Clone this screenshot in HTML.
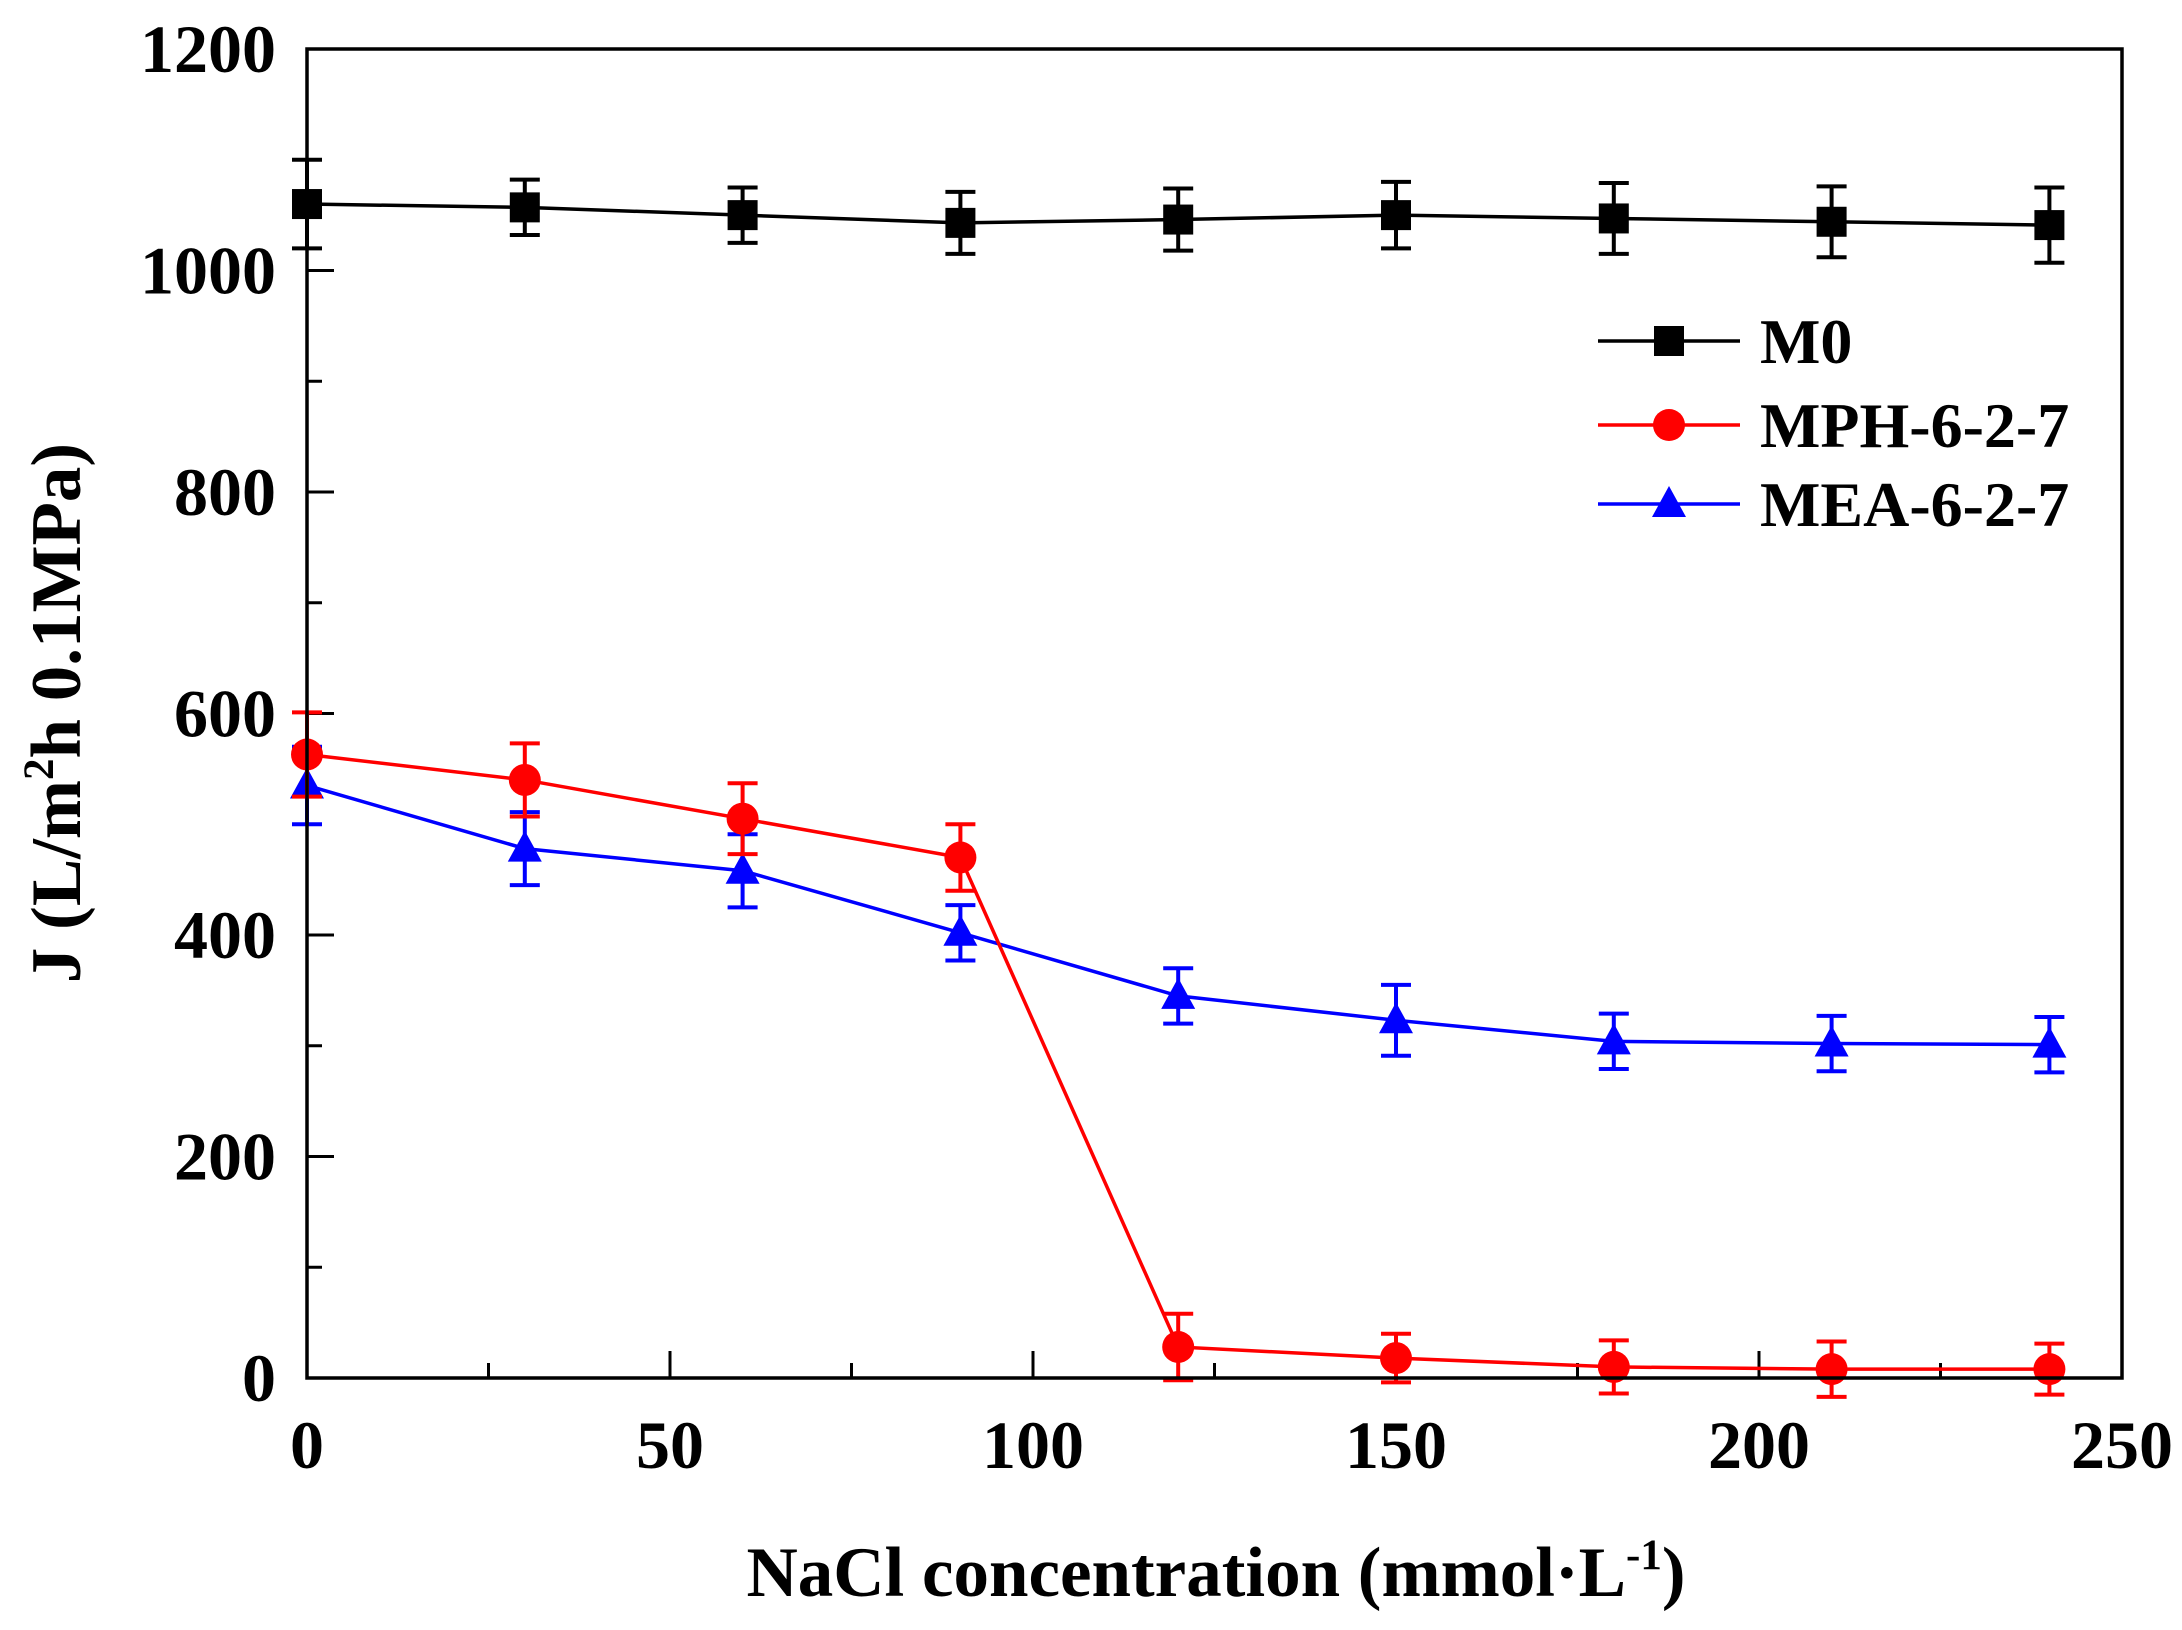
<!DOCTYPE html>
<html><head><meta charset="utf-8"><style>
html,body{margin:0;padding:0;background:#fff;}
svg{display:block;font-family:"Liberation Serif",serif;font-weight:bold;}
</style></head><body>
<svg id="chart" width="2182" height="1630" viewBox="0 0 2182 1630" xmlns="http://www.w3.org/2000/svg">
<g id="plot"></g>
<text x="1216" y="1596" text-anchor="middle" font-size="71" font-family="Liberation Serif, serif" font-weight="bold">NaCl concentration (mmol·L<tspan dy="-27" font-size="43">-1</tspan><tspan dy="27">)</tspan></text>
<text transform="translate(80,713) rotate(-90)" text-anchor="middle" font-size="71" font-family="Liberation Serif, serif" font-weight="bold">J (L/m<tspan dy="-27" font-size="43">2</tspan><tspan dy="27">h 0.1MPa)</tspan></text>
</svg>
<script>
const xValues = [0, 30, 60, 90, 120, 150, 180, 210, 240];
const m0Values = [1060, 1057, 1050, 1043, 1046, 1050, 1047, 1044, 1041];
const m0Errors = [40, 25, 25, 28, 28, 30, 32, 32, 34];
const mphValues = [563, 540, 505, 470, 28, 18, 10, 8, 8];
const mphErrors = [38, 33, 32, 30, 30, 22, 24, 25, 23];
const meaValues = [535, 478, 458, 402, 345, 323, 304, 302, 301];
const meaErrors = [35, 33, 33, 25, 25, 32, 25, 25, 25];
const xTicks = [0, 50, 100, 150, 200, 250];
const yTicks = [0, 200, 400, 600, 800, 1000, 1200];

const X0 = 307, X1 = 2122, Y0 = 1378, Y1 = 49;
const xs = v => X0 + (v - 0) / 250 * (X1 - X0);
const ys = v => Y0 - v / 1200 * (Y0 - Y1);
const NS = 'http://www.w3.org/2000/svg';
const g = document.getElementById('plot');
function mk(tag, attrs, parent) {
  const e = document.createElementNS(NS, tag);
  for (const k in attrs) e.setAttribute(k, attrs[k]);
  (parent || g).appendChild(e);
  return e;
}

for (let v = 0; v <= 250; v += 25) {
  const major = v % 50 === 0;
  const t = mk('line', {x1: xs(v), x2: xs(v), y1: Y0, y2: Y0 - (major ? 27 : 15), stroke: '#000', 'stroke-width': 3});
  
  
}
for (let v = 0; v <= 1200; v += 100) {
  const major = v % 200 === 0;
  const t = mk('line', {x1: X0, x2: X0 + (major ? 27 : 15), y1: ys(v), y2: ys(v), stroke: '#000', 'stroke-width': 3});
  
  
}
xTicks.forEach(v => {
  const t = mk('text', {x: xs(v), y: 1468, 'text-anchor': 'middle', 'font-size': 68});
  t.textContent = v;
  
  
});
yTicks.forEach(v => {
  const t = mk('text', {x: 276, y: ys(v) + 23, 'text-anchor': 'end', 'font-size': 68});
  t.textContent = v;
  
  
});

function marker(type, cx, cy, color, parent) {
  let m;
  if (type === 'square') m = mk('rect', {x: cx - 15, y: cy - 15, width: 30, height: 30, fill: color}, parent);
  else if (type === 'circle') m = mk('circle', {cx: cx, cy: cy, r: 16, fill: color}, parent);
  else m = mk('polygon', {points: `${cx},${cy - 18} ${cx - 17},${cy + 13} ${cx + 17},${cy + 13}`, fill: color}, parent);
  return m;
}

function series(name, vals, errs, color, type) {
  const sg = mk('g', {});
  
  
  vals.forEach((v, i) => {
    const x = xs(xValues[i]), yt = ys(v + errs[i]), yb = ys(v - errs[i]);
    const eb = mk('path', {d: `M${x},${yt}V${yb}M${x - 15},${yt}H${x + 15}M${x - 15},${yb}H${x + 15}`, stroke: color, 'stroke-width': 4, fill: 'none'}, sg);
    
    
  });
  const line = mk('polyline', {points: vals.map((v, i) => xs(xValues[i]) + ',' + ys(v)).join(' '), stroke: color, 'stroke-width': 3.5, fill: 'none'}, sg);
  
  
  vals.forEach((v, i) => {
    const m = marker(type, xs(xValues[i]), ys(v), color, sg);
    
    
  });
}
series('m0', m0Values, m0Errors, '#000', 'square');
series('mea', meaValues, meaErrors, '#0000ff', 'triangle');
series('mph', mphValues, mphErrors, '#ff0000', 'circle');

const fr = mk('rect', {x: X0, y: Y1, width: X1 - X0, height: Y0 - Y1, fill: 'none', stroke: '#000', 'stroke-width': 3.5});



const legend = [['M0', '#000', 'square', 341], ['MPH-6-2-7', '#ff0000', 'circle', 425], ['MEA-6-2-7', '#0000ff', 'triangle', 504]];
const lg = mk('g', {});


legend.forEach(([lab, c, t, y]) => {
  const e = mk('g', {}, lg);
  
  
  mk('line', {x1: 1598, x2: 1740, y1: y, y2: y, stroke: c, 'stroke-width': 3.5}, e);
  marker(t, 1669, y, c, e);
  const tx = mk('text', {x: 1760, y: y + 22, 'font-size': 64}, e);
  tx.textContent = lab;
});
</script>
</body></html>
